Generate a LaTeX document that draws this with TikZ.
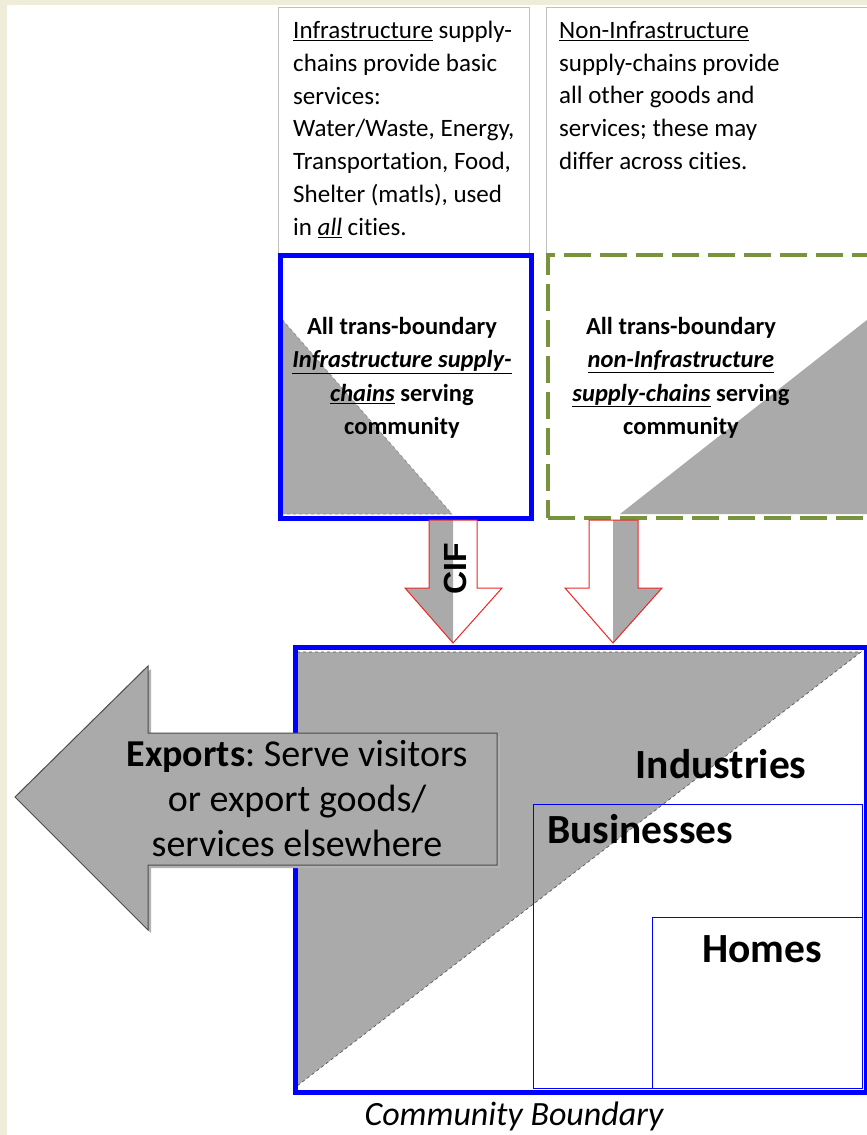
\documentclass[tikz,border=0pt]{standalone}
\usepackage{fontspec}
\setmainfont{Carlito}[Ligatures=NoCommon]
\newfontfamily\ciffont{Liberation Sans}
\usetikzlibrary{positioning}
\frenchspacing

\definecolor{cream}{RGB}{240,236,218}
\definecolor{chaingrey}{RGB}{170,170,170}
\definecolor{olivegreen}{RGB}{119,147,60}
\definecolor{boundaryblue}{RGB}{0,0,255}
\definecolor{flowred}{RGB}{235,40,40}

\begin{document}
\begin{tikzpicture}[
    x=1pt, y=-1pt,
    notebox/.style={draw=black!25, line width=0.8pt, fill=white, inner sep=0pt},
    infrabox/.style={draw=boundaryblue, line width=4.5pt, inner sep=0pt},
    otherbox/.style={draw=olivegreen, line width=4pt, dash pattern=on 27pt off 9pt, inner sep=0pt},
    sectorbox/.style={draw=boundaryblue, line width=1.2pt, inner sep=0pt},
    greytri/.style={fill=chaingrey, draw=black!45, dashed, line width=0.7pt},
    flowarrow/.style={draw=flowred, line width=1pt, line join=miter},
    notetext/.style={font=\fontsize{25}{32.8}\selectfont, align=left, inner sep=0pt},
    chaintext/.style={font=\bfseries\fontsize{24.5}{33.5}\selectfont, align=center, inner sep=0pt},
    sectortext/.style={font=\bfseries\fontsize{41.5}{44}\selectfont, inner sep=0pt}
]
\useasboundingbox (0,0) rectangle (867,1135);
\clip (0,0) rectangle (867,1135);

% page background
\fill[cream] (0,0) rectangle (867,1135);
\fill[white] (7,5) rectangle (867,1135);

% explanation boxes on top
\node[notebox, minimum width=251pt, minimum height=246pt, anchor=north west] (infranote) at (278,7) {};
\node[notebox, minimum width=340pt, minimum height=246pt, anchor=north west] (othernote) at (546,7) {};

\node[notetext, anchor=north west] (infranotetext) at (293,21) {
\underline{Infrastructure} supply-\\
chains provide basic\\
services:\\
Water/Waste, Energy,\\
Transportation, Food,\\
Shelter (matls), used\\
in \underline{\textit{all}} cities.
};
\node[notetext, anchor=north west] (othernotetext) at (559,21) {
\underline{Non-Infrastructure}\\
supply-chains provide\\
all other goods and\\
services; these may\\
differ across cities.
};

% supply-chain boxes
\fill[white] (278,253) rectangle (880,516);
\draw[greytri] (280,317) -- (280,514) -- (452,514) -- cycle;
\fill[chaingrey] (620,514) -- (900,294) -- (900,514) -- cycle;
\node[infrabox, minimum width=251pt, minimum height=263pt, anchor=north west] (infrachain) at (278,253) {};
\node[otherbox, minimum width=340pt, minimum height=263pt, anchor=north west] (otherchain) at (546,253) {};

\node[chaintext, anchor=north] (infrachaintext) at (402,317) {
All trans-boundary\\
\underline{\textit{Infrastructure supply-}}\\
\underline{\textit{chains}} serving\\
community
};
\node[chaintext, anchor=north] (otherchaintext) at (681,317) {
All trans-boundary\\
\underline{\textit{non-Infrastructure}}\\
\underline{\textit{supply-chains}} serving\\
community
};

% flows into the community
\fill[white] (429,520) -- (477,520) -- (477,588) -- (502,588) -- (453,643) -- (405,588) -- (429,588) -- cycle;
\fill[chaingrey] (429,520) -- (453,520) -- (453,643) -- (405,588) -- (429,588) -- cycle;
\draw[flowarrow] (429,520) -- (477,520) -- (477,588) -- (502,588) -- (453,643) -- (405,588) -- (429,588) -- cycle;
\node[rotate=90, font=\ciffont\bfseries\fontsize{32}{32}\selectfont, inner sep=0pt] (cif) at (455,569) {CIF};

\fill[white] (589,520) -- (638,520) -- (638,588) -- (662,588) -- (613,643) -- (565,588) -- (589,588) -- cycle;
\fill[chaingrey] (613,520) -- (638,520) -- (638,588) -- (662,588) -- (613,643) -- cycle;
\draw[flowarrow] (589,520) -- (638,520) -- (638,588) -- (662,588) -- (613,643) -- (565,588) -- (589,588) -- cycle;

% community with its sectors
\draw[greytri, draw=black!65] (297,652) -- (861,652) -- (297,1086) -- cycle;
\node[sectorbox, minimum width=329pt, minimum height=284pt, anchor=north west] (businesses) at (533,804) {};
\node[sectorbox, minimum width=210pt, minimum height=171pt, anchor=north west] (homes) at (652,917) {};
\node[infrabox, minimum width=571pt, minimum height=445pt, anchor=north west] (community) at (293,645) {};

\node[sectortext, anchor=base] (industrieslabel) at (721,778) {Industries};
\node[sectortext, anchor=base west] (businesseslabel) at (547,843) {Businesses};
\node[sectortext, anchor=base] (homeslabel) at (762,962) {Homes};

\node[font=\itshape\fontsize{34}{34}\selectfont, anchor=base, inner sep=0pt] (boundarylabel) at (514,1125) {Community Boundary};

% exports leaving the community
\fill[black!30] (18,800) -- (151,669) -- (151,736) -- (500,736) -- (500,868) -- (151,868) -- (151,933) -- cycle;
\filldraw[fill=chaingrey, draw=black!70, line width=1pt, line join=miter]
    (15,797) -- (148,666) -- (148,733) -- (497,733) -- (497,865) -- (148,865) -- (148,930) -- cycle;
\node[font=\fontsize{38}{45}\selectfont, align=center, inner sep=0pt, anchor=north] (exports) at (297,740) {
\textbf{Exports}: Serve visitors\\
or export goods/\\
services elsewhere
};

\end{tikzpicture}
\end{document}
